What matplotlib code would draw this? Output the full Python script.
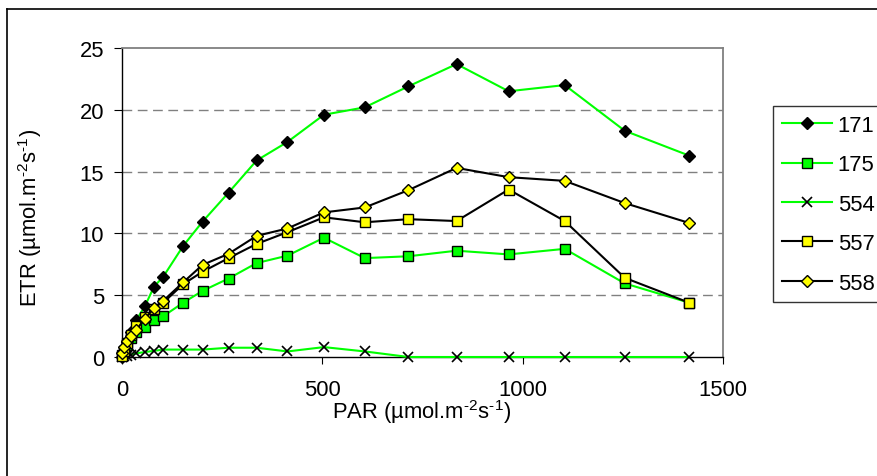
import matplotlib
matplotlib.use("Agg")
import matplotlib.pyplot as plt
from matplotlib.lines import Line2D

plt.rcParams['font.family'] = ['Liberation Sans', 'DejaVu Sans']
plt.rcParams['mathtext.fontset'] = 'custom'
plt.rcParams['mathtext.rm'] = 'Liberation Sans'
plt.rcParams['mathtext.it'] = 'Liberation Sans'
plt.rcParams['mathtext.default'] = 'regular'

# ---- data ----
par = [0, 5, 12, 22, 36, 57, 80, 103, 153, 201, 266, 336, 413, 504, 606, 715, 835, 965, 1105, 1255, 1415]
etr_171 = [0.0, 0.5, 1.2, 2.0, 3.0, 4.1, 5.7, 6.5, 9.0, 10.95, 13.3, 15.9, 17.4, 19.6, 20.2, 21.9, 23.7, 21.5, 22.0, 18.3, 16.3]
etr_175 = [0.2, 0.5, 1.0, 1.5, 2.0, 2.4, 3.0, 3.3, 4.4, 5.35, 6.35, 7.6, 8.2, 9.65, 8.0, 8.15, 8.6, 8.3, 8.75, 5.95, 4.4]
etr_554 = [0.0, 0.05, 0.1, 0.2, 0.3, 0.4, 0.5, 0.6, 0.6, 0.6, 0.75, 0.75, 0.45, 0.8, 0.45, 0.0, 0.0, 0.0, 0.0, 0.0, 0.0]
etr_557 = [0.1, 0.5, 1.1, 1.8, 2.5, 3.2, 3.9, 4.4, 5.9, 6.9, 8.0, 9.15, 10.1, 11.3, 10.9, 11.15, 11.0, 13.55, 11.0, 6.4, 4.4]
etr_558 = [0.3, 0.8, 1.3, 1.7, 2.2, 3.1, 3.95, 4.55, 6.05, 7.45, 8.35, 9.8, 10.4, 11.7, 12.1, 13.5, 15.3, 14.55, 14.25, 12.45, 10.85]
labels = ['171', '175', '554', '557', '558']
x_ticks = [0, 500, 1000, 1500]
y_ticks = [0, 5, 10, 15, 20, 25]

W, H = 878, 477
fig = plt.figure(figsize=(W / 100, H / 100), dpi=100)
ax = fig.add_axes([122 / W, 1 - 358 / H, (723 - 122) / W, (358 - 49) / H])

GREEN = '#00FF00'
YELLOW = '#FFFF00'
styles = [
    dict(color=GREEN, marker='D', mfc='black', mec='black', ms=6.5),
    dict(color=GREEN, marker='s', mfc=GREEN, mec='black', ms=6.5),
    dict(color=GREEN, marker='x', mfc='none', mec='black', ms=7, mew=1.2),
    dict(color='black', marker='s', mfc=YELLOW, mec='black', ms=6.5),
    dict(color='black', marker='D', mfc=YELLOW, mec='black', ms=6.5),
]
series = [etr_171, etr_175, etr_554, etr_557, etr_558]
handles = []
for ys, st, lab in zip(series, styles, labels):
    h, = ax.plot(par, ys, lw=1.5, label=lab, clip_on=False, zorder=3, **st)
    handles.append(h)

ax.set_xlim(0, 1500)
ax.set_ylim(0, 25)
ax.set_xticks(x_ticks)
ax.set_yticks(y_ticks)
ax.tick_params(axis='both', labelsize=15.8, direction='out', colors='black')
ax.tick_params(axis='x', length=5, pad=11)
ax.tick_params(axis='y', length=6, pad=7)

for yv in y_ticks[1:-1]:
    ax.axhline(yv, color='#808080', lw=1.0, ls=(0, (7, 4)), zorder=1)

for s in ['left', 'bottom']:
    ax.spines[s].set_color('black')
    ax.spines[s].set_linewidth(1.0)
for s in ['top', 'right']:
    ax.spines[s].set_color('#808080')
    ax.spines[s].set_linewidth(1.3)

unit = 'µmol.m$^{\\text{-2}}$s$^{\\text{-1}}$'
fig.text(30 / W, 1 - 218 / H, 'ETR (' + unit + ')', rotation=90,
         ha='center', va='center', fontsize=15.8)
fig.text(422 / W, 1 - 412 / H, 'PAR (' + unit + ')',
         ha='center', va='center', fontsize=15.8)

leg = fig.legend(handles=handles, loc='upper left', bbox_to_anchor=(773 / W, 1 - 107 / H),
                 fontsize=15.8, frameon=True, fancybox=False, edgecolor='black',
                 handlelength=2.3, handletextpad=0.25, labelspacing=0.84,
                 borderpad=0.4, borderaxespad=0)
leg.get_frame().set_linewidth(1.0)

# outer chart border
fig.add_artist(Line2D([7.5 / W, 7.5 / W], [0, 1 - 9.5 / H], color='black', lw=1.2,
                      transform=fig.transFigure))
fig.add_artist(Line2D([7.5 / W, 1], [1 - 9.5 / H, 1 - 9.5 / H], color='black', lw=1.2,
                      transform=fig.transFigure))

fig.savefig('out.png', dpi=100)
